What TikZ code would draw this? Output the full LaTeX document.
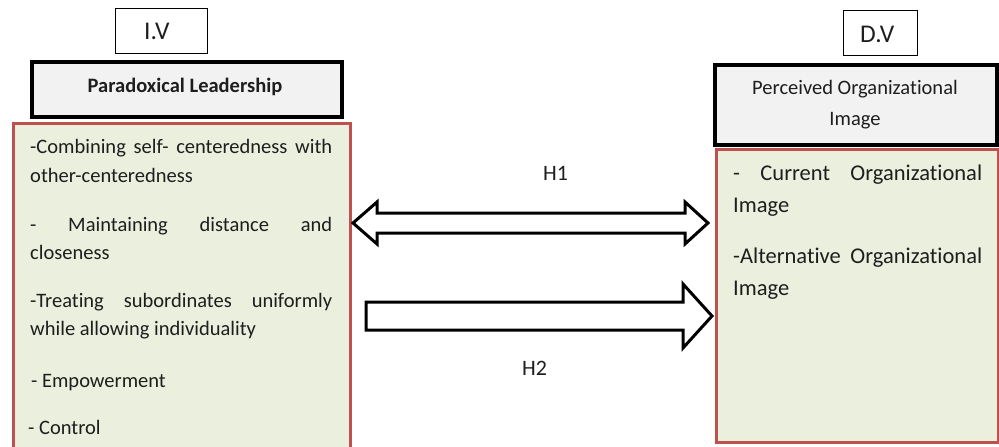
\documentclass[tikz,border=0pt]{standalone}
\usepackage{fontspec}
\setmainfont{Carlito}[Ligatures=NoCommon]
\definecolor{listred}{HTML}{C0504D}
\definecolor{listgreen}{HTML}{EBEFDE}
\definecolor{titlegray}{HTML}{F2F2F2}
\definecolor{inktext}{HTML}{1E1E1E}
\tikzset{
  varbox/.style={draw, line width=1pt, inner sep=0pt, font=\fontsize{25}{28}\selectfont},
  titlebox/.style={draw, fill=titlegray, line width=3.5pt, inner sep=0pt},
  listbox/.style={draw=listred, fill=listgreen, line width=3pt, inner sep=0pt},
  blockarrow/.style={draw, fill=white, line width=3pt, line join=miter},
  bodytext/.style={anchor=base west, inner sep=0pt, text=inktext, font=\fontsize{20.5}{28.5}\selectfont},
  imagetext/.style={bodytext, font=\fontsize{22.5}{30}\selectfont},
  hyplabel/.style={anchor=base west, inner sep=0pt, text=inktext, font=\fontsize{22}{26}\selectfont}
}
\newcommand{\spreadline}[2]{\makebox[#1pt][s]{#2}}
\begin{document}
\begin{tikzpicture}[x=1pt, y=-1pt]
			\useasboundingbox (0, 0) rectangle (999, 447);
			\clip (0, 0) rectangle (999, 447);

			%%variable labels
			\node[varbox, minimum width=92, minimum height=45] (iv) at (161, 30.5){};
				\node[bodytext, font=\fontsize{25.5}{28}\selectfont] (ivtext) at (144, 39){I.V};
			\node[varbox, minimum width=74, minimum height=45] (dv) at (880, 32.5){};
				\node[bodytext, font=\fontsize{25.5}{28}\selectfont] (dvtext) at (860, 42){D.V};

			%%title boxes
			\node[titlebox, minimum width=310, minimum height=55] (leadbox) at (187, 89.5){};
				\node[bodytext, anchor=base, font=\bfseries\fontsize{20.5}{24}\selectfont] (leadtitle) at (185, 92){Paradoxical Leadership};
			\node[titlebox, minimum width=282, minimum height=80] (imagebox) at (856, 105){};
				\node[bodytext, anchor=base] (imagetitle) at (855, 94){Perceived Organizational};
				\node[bodytext, anchor=base] (imagetitle2) at (855, 125){Image};

			%%list boxes
			\node[listbox, minimum width=337, minimum height=340, anchor=north west] (leadlist) at (12, 122){};
			\node[listbox, minimum width=282, minimum height=293, anchor=north west] (imagelist) at (715, 148){};

			%%paradoxical leadership items
			\node[bodytext] (ita) at (30, 153){\spreadline{302}{-Combining self- centeredness with}};
			\node[bodytext] (itb) at (30, 182){other-centeredness};
			\node[bodytext] (itc) at (30, 231){\spreadline{302}{- Maintaining distance and}};
			\node[bodytext] (itd) at (30, 259){closeness};
			\node[bodytext] (ite) at (30, 307){\spreadline{302}{-Treating subordinates uniformly}};
			\node[bodytext] (itf) at (30, 335){while allowing individuality};
			\node[bodytext] (itg) at (31, 387){- Empowerment};
			\node[bodytext] (ith) at (28, 434){- Control};

			%%organizational image items
			\node[imagetext] (ima) at (733, 180){\spreadline{249}{- Current Organizational}};
			\node[imagetext] (imb) at (733, 212){Image};
			\node[imagetext] (imc) at (733, 263){\spreadline{249}{-Alternative Organizational}};
			\node[imagetext] (imd) at (733, 295){Image};

			%%draw the arrows
			\draw[blockarrow] (353, 223) -- (377, 202) -- (377, 213) -- (685, 213) -- (685, 202)
				-- (708, 223) -- (685, 244) -- (685, 233) -- (377, 233) -- (377, 244) -- cycle;
				\node[hyplabel] (h1) at (543, 180){H1};
			\draw[blockarrow] (366, 302) -- (683, 302) -- (683, 284) -- (712, 316)
				-- (683, 348) -- (683, 330) -- (366, 330) -- cycle;
				\node[hyplabel] (h2) at (522, 375){H2};
\end{tikzpicture}
\end{document}
